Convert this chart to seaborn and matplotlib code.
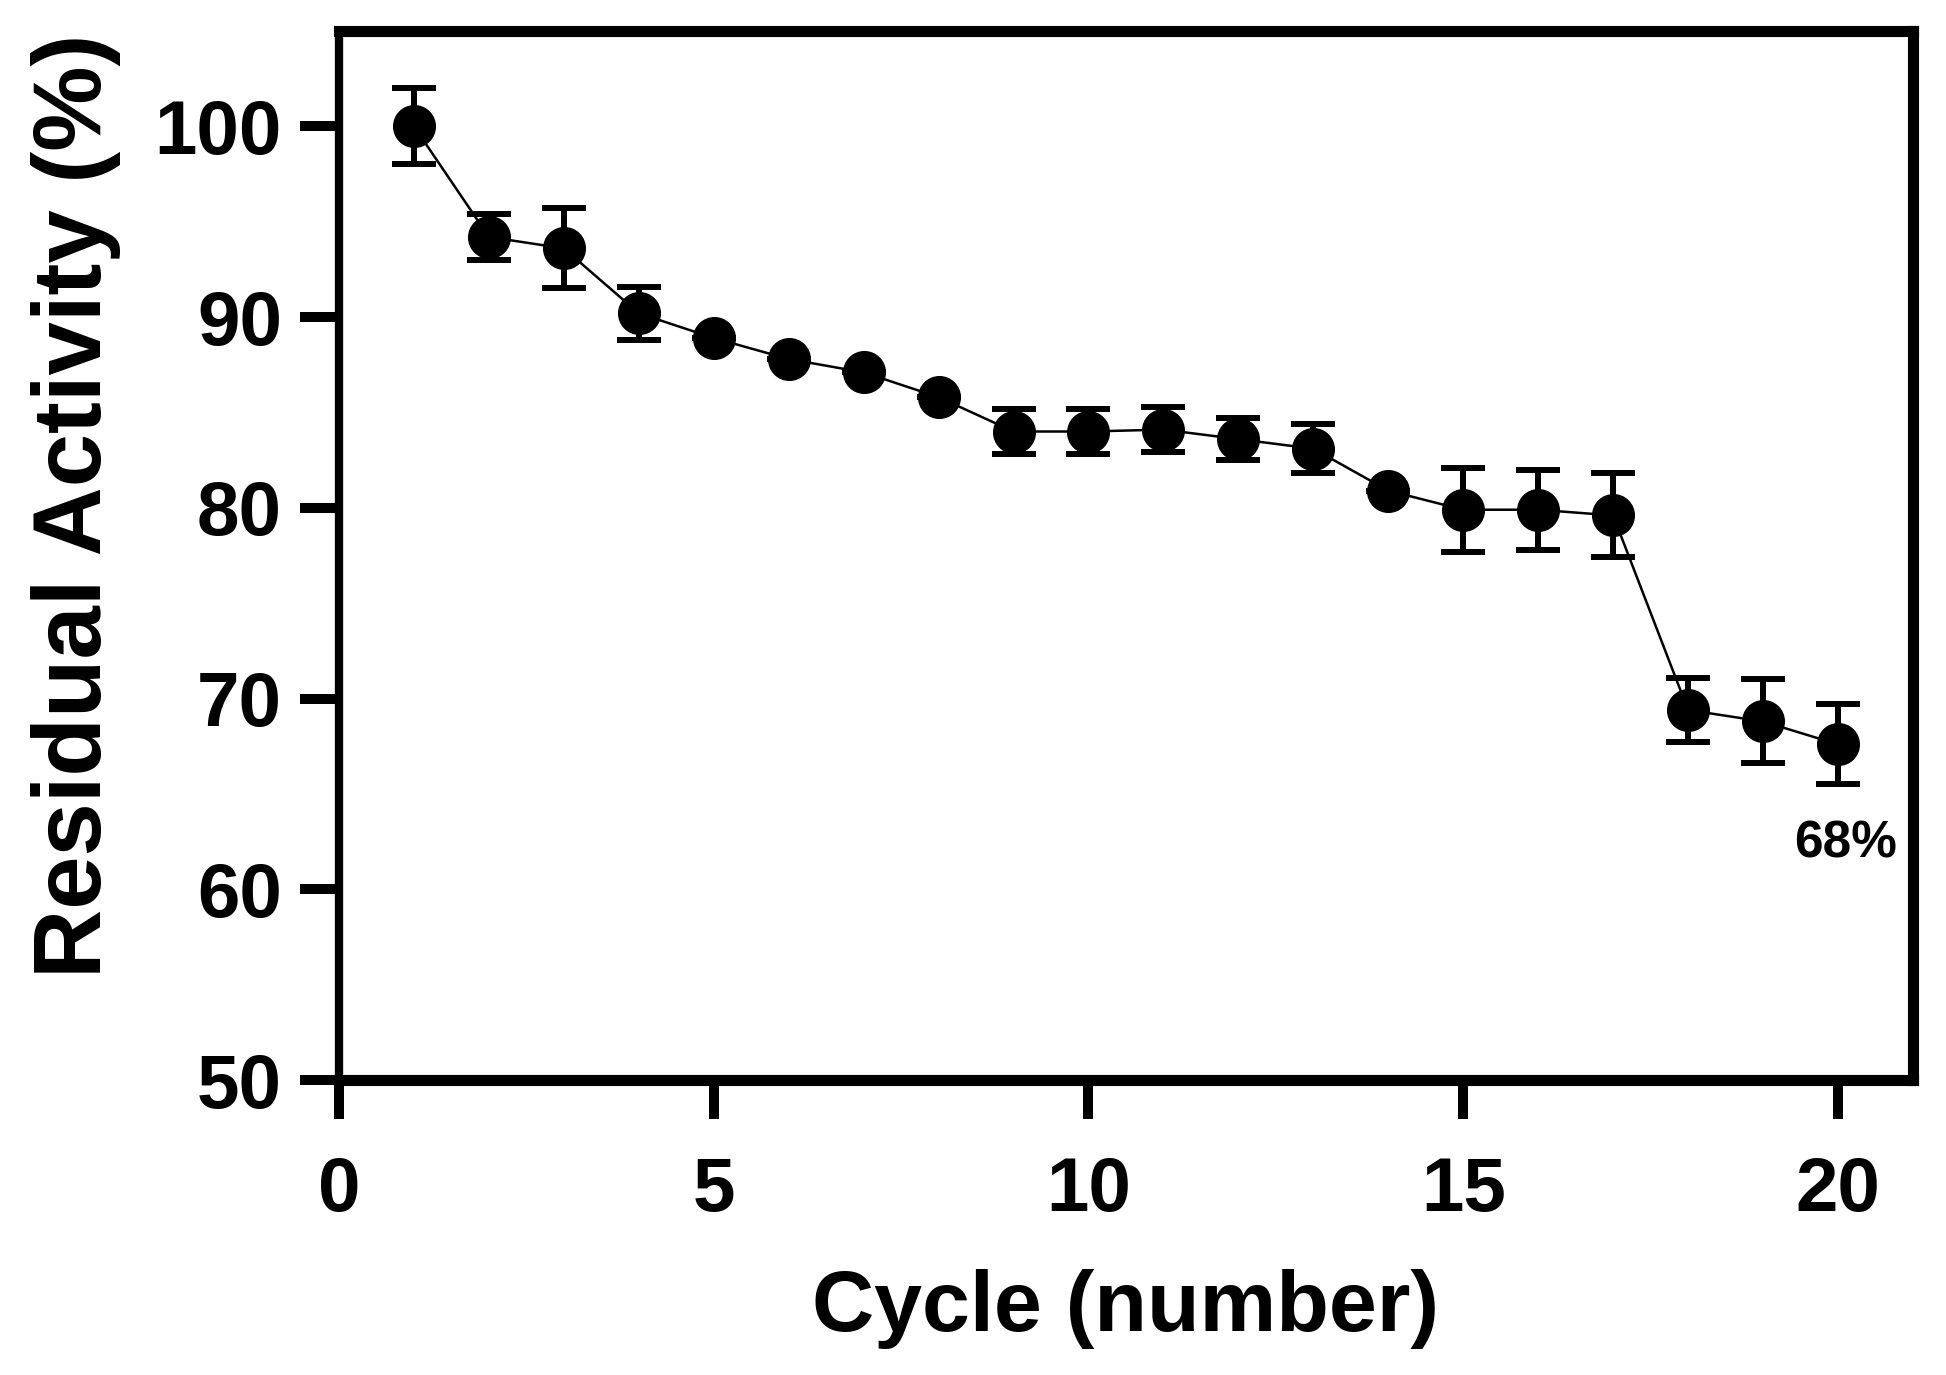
import numpy as np
import pandas as pd
import matplotlib
matplotlib.use("Agg")
import matplotlib.pyplot as plt
import seaborn as sns

# data
cycles = list(range(1, 21))
activity = [100.0, 94.2, 93.6, 90.2, 88.9, 87.8, 87.1, 85.8, 84.0, 84.0,
            84.1, 83.6, 83.1, 80.9, 79.9, 79.9, 79.6, 69.4, 68.8, 67.6]
errors = [2.0, 1.2, 2.1, 1.4, 0.0, 0.0, 0.0, 0.0, 1.2, 1.2,
          1.2, 1.1, 1.3, 0.0, 2.2, 2.1, 2.2, 1.7, 2.2, 2.1]
x_ticks = [0, 5, 10, 15, 20]
y_ticks = [50, 60, 70, 80, 90, 100]
end_label = "68%"

df = pd.DataFrame({"cycle": cycles, "activity": activity, "err": errors})

sns.set_style("ticks")
plt.rcParams['font.family'] = ['Liberation Sans', 'DejaVu Sans']
plt.rcParams['font.weight'] = 'bold'
plt.rcParams['text.color'] = 'black'
plt.rcParams['axes.labelcolor'] = 'black'

fig = plt.figure(figsize=(19.46, 13.75), dpi=100)
ax = fig.add_axes([0.1742, 0.2145, 0.983 - 0.1742, 0.9775 - 0.2145])

# error bars first, markers on top
ax.errorbar(df["cycle"], df["activity"], yerr=df["err"], fmt='none',
            ecolor='black', elinewidth=4.3, capsize=16, capthick=4.3, zorder=2)
sns.lineplot(data=df, x="cycle", y="activity", ax=ax, color='black',
             linewidth=1.8, marker='o', markersize=31, markeredgewidth=0,
             zorder=3)

ax.text(20.1, 62.4, end_label, ha='center', va='center', fontsize=37,
        fontweight='bold', color='black')

ax.set_xlim(0, 21)
ax.set_ylim(50, 105)
ax.set_xticks(x_ticks)
ax.set_yticks(y_ticks)
ax.set_xlabel("Cycle (number)", fontsize=62, fontweight='bold', labelpad=30,
              color='black')
ax.set_ylabel("Residual Activity (%)", fontsize=69, fontweight='bold', labelpad=24,
              color='black')
ax.yaxis.label.set_y(0.547)
ax.tick_params(axis='both', length=28, width=7.2, labelsize=55, pad=13,
               color='black', labelcolor='black')
ax.tick_params(axis='x', pad=27)
for lab in ax.get_xticklabels() + ax.get_yticklabels():
    lab.set_fontweight('bold')

ax.spines['left'].set_linewidth(6)
for s in ['top', 'right', 'bottom']:
    ax.spines[s].set_linewidth(8)
for s in ax.spines.values():
    s.set_color('black')
    s.set_visible(True)

fig.savefig("out.png", dpi=100)
